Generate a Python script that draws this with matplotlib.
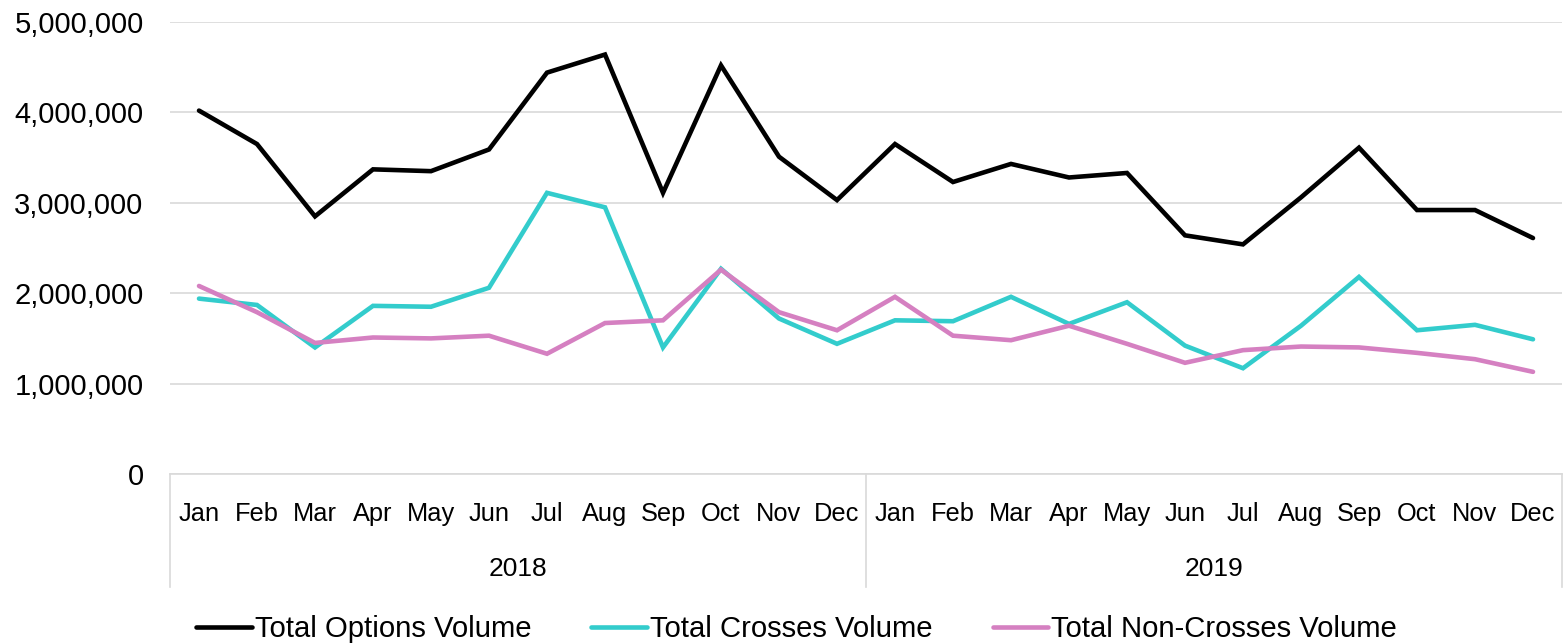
import matplotlib
matplotlib.use("Agg")
import matplotlib.pyplot as plt
from matplotlib.ticker import FuncFormatter
from matplotlib.lines import Line2D
import matplotlib.transforms as mtransforms

plt.rcParams['font.family'] = ['Liberation Sans', 'DejaVu Sans']

months = ["Jan", "Feb", "Mar", "Apr", "May", "Jun", "Jul", "Aug", "Sep", "Oct", "Nov", "Dec"]
years = ["2018", "2019"]
categories = months * 2

total_options = [4020000, 3650000, 2850000, 3370000, 3350000, 3590000, 4440000, 4640000,
                 3110000, 4520000, 3510000, 3030000,
                 3650000, 3230000, 3430000, 3280000, 3330000, 2640000, 2540000, 3060000,
                 3610000, 2920000, 2920000, 2610000]
total_crosses = [1940000, 1870000, 1400000, 1860000, 1850000, 2060000, 3110000, 2950000,
                 1400000, 2270000, 1720000, 1440000,
                 1700000, 1690000, 1960000, 1660000, 1900000, 1420000, 1170000, 1640000,
                 2180000, 1590000, 1650000, 1490000]
total_non_crosses = [2080000, 1790000, 1450000, 1510000, 1500000, 1530000, 1330000, 1670000,
                     1700000, 2260000, 1790000, 1590000,
                     1960000, 1530000, 1480000, 1640000, 1440000, 1230000, 1370000, 1410000,
                     1400000, 1340000, 1270000, 1130000]

series_names = ["Total Options Volume", "Total Crosses Volume", "Total Non-Crosses Volume"]
colors = ["#000000", "#33CCCC", "#D580C1"]

W, H = 1565, 644
fig = plt.figure(figsize=(W / 100, H / 100), dpi=100)
ax = fig.add_axes([170 / W, 1 - 474 / H, (1562 - 170) / W, (474 - 22) / H])

x = list(range(len(categories)))
for vals, name, c in zip([total_options, total_crosses, total_non_crosses], series_names, colors):
    ax.plot(x, vals, color=c, lw=3.3, label=name, solid_joinstyle='miter', solid_capstyle='round')

ax.set_xlim(-0.5, len(categories) - 0.5)
ax.set_ylim(0, 5000000)
ax.set_yticks([0, 1000000, 2000000, 3000000, 4000000, 5000000])
ax.yaxis.set_major_formatter(FuncFormatter(lambda v, p: f"{int(v):,}"))
ax.grid(axis='y', color='#D9D9D9', lw=1.2)
ax.set_axisbelow(True)
for s in ['top', 'right', 'left']:
    ax.spines[s].set_visible(False)
ax.spines['bottom'].set_color('#D9D9D9')
ax.spines['bottom'].set_linewidth(1.2)

ax.set_xticks(x)
ax.set_xticklabels(categories, fontsize=18.3)
ax.tick_params(axis='x', length=0, pad=20)
ax.tick_params(axis='y', length=0, pad=19, labelsize=21)

trans = mtransforms.blended_transform_factory(ax.transData, ax.transAxes)
axh = 474 - 22
for i, yr in enumerate(years):
    ax.text(i * 12 + 5.5, -(569 - 474) / axh, yr, transform=trans, ha='center', va='center', fontsize=19)
for xb in [-0.5, 11.5, 23.5]:
    ax.add_line(Line2D([xb, xb], [0, -(587 - 474) / axh], transform=trans, color='#D9D9D9',
                       lw=1.2, clip_on=False))

fig.legend(loc='center', bbox_to_anchor=(0.5 + 14 / W, 1 - 629 / H), ncol=3, frameon=False, fontsize=21.1,
           handlelength=1.9, handletextpad=0.1, columnspacing=2.05)

fig.savefig("out.png", dpi=100)
